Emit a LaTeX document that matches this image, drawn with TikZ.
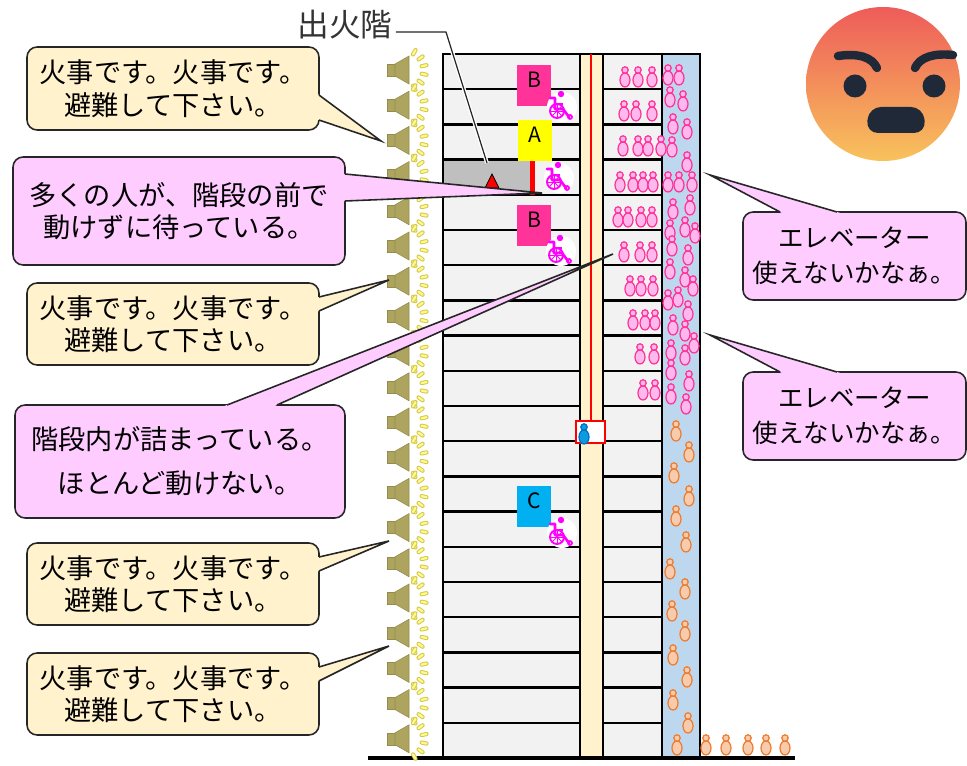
\documentclass[tikz,border=0pt]{standalone}
\usepackage{fontspec}
\newfontfamily\jp{Noto Sans CJK JP}
\usetikzlibrary{calc}

\definecolor{notebeige}{HTML}{FFF2CC}
\definecolor{notepink}{HTML}{FFCCFF}
\definecolor{floorfill}{HTML}{F2F2F2}
\definecolor{firefloor}{HTML}{BFBFBF}
\definecolor{corefill}{HTML}{FFF2CC}
\definecolor{shaftfill}{HTML}{BDD7EE}
\definecolor{tagB}{HTML}{FF3399}
\definecolor{tagA}{HTML}{FFFF00}
\definecolor{tagC}{HTML}{00B0F0}
\definecolor{chair}{HTML}{FF00FF}
\definecolor{spkbody}{HTML}{ADA45F}
\definecolor{spkedge}{HTML}{948C4A}
\definecolor{wavefill}{HTML}{FFF88A}
\definecolor{waveedge}{HTML}{D3C84E}
\definecolor{pinkbody}{HTML}{FFB8EC}
\definecolor{pinkline}{HTML}{FF3399}
\definecolor{orangebody}{HTML}{F8CBAD}
\definecolor{orangeline}{HTML}{ED7D31}
\definecolor{bluebody}{HTML}{0A9BE0}
\definecolor{blueline}{HTML}{0070C0}
\definecolor{emotop}{HTML}{EE5C5A}
\definecolor{emobot}{HTML}{F8C25C}
\definecolor{emofeat}{HTML}{1F2937}

% a tail for a speech box: base point, tip, base point
\newcommand{\calltail}[4]{%
  \fill[#1] ($(#2)!-2.5pt!(#3)$) -- (#3) -- ($(#4)!-2.5pt!(#3)$) -- cycle;
  \draw[tailedge] (#2) -- (#3) -- (#4);}

\tikzset{
  note/.style={draw=black!85, line width=0.9pt, rounded corners=0.2cm, align=center,
    inner sep=0pt, outer sep=0pt, font=\jp\fontsize{15.5}{18.5}\selectfont},
  warnnote/.style={note, fill=notebeige, minimum width=5.84cm, minimum height=1.64cm},
  crowdnote/.style={note, fill=notepink},
  liftnote/.style={note, fill=notepink, minimum width=4.46cm, minimum height=1.76cm,
    font=\jp\fontsize{14.5}{20}\selectfont},
  tailedge/.style={draw=black!85, line width=0.9pt},
  floorline/.style={line width=1.4pt},
  wall/.style={line width=1.6pt},
  tagbox/.style={anchor=north west, minimum width=0.68cm, text height=9.5pt, text depth=7.7pt,
    inner ysep=3pt, inner xsep=0pt, font=\jp\fontsize{12}{12}\selectfont},
  pinkp/.style={draw=pinkline, fill=pinkbody, line width=0.7pt},
  orangep/.style={draw=orangeline, fill=orangebody, line width=0.7pt},
  bluep/.style={draw=blueline, fill=bluebody, line width=0.7pt},
  pics/man/.style={code={
      \path[#1] (0,0) ellipse (5 and 7);
      \path[#1] (0,-10) circle (3.2);}},
  pics/speaker/.style={code={
      \filldraw[fill=spkbody, draw=spkedge, line width=0.3pt] (-13,-6) rectangle (-5,6);
      \filldraw[fill=spkbody, draw=spkedge, line width=0.3pt] (-5,-6) -- (9,-14) -- (9,14) -- (-5,6) -- cycle;
      \begin{scope}[shift={(4,0)}]
        \foreach \a in {-60,-36,-12,12,36,60}{
          \draw[waveedge, line width=2.4pt, line cap=round] (\a:18) -- (\a:23);
          \draw[wavefill, line width=1.3pt, line cap=round] (\a:18) -- (\a:23);
        }
      \end{scope}}},
  pics/wheelchair/.style={code={
      \fill[white] (1,1) circle (15);
      \fill[chair] (0,-12) circle (3.2);
      \draw[chair, line width=1.5pt, line cap=round, line join=round]
        (-11,-8) -- (-6,-8) -- (-6,3) -- (2,3) -- (8,11);
      \draw[chair, line width=1.3pt] (-6,-2) -- (2,-2);
      \draw[chair, line width=1.1pt] (-4,5) circle (7);
      \foreach \a in {0,45,...,315} \draw[chair, line width=0.5pt] (-4,5) -- ++(\a:7);
      \draw[chair, line width=1pt] (9,11) circle (2);}}
}

\begin{document}
\begin{tikzpicture}[x=0.02cm, y=-0.02cm]
\useasboundingbox (0,0) rectangle (967,766);

% building
\fill[floorfill] (443,54) rectangle (580,758);
\fill[floorfill] (603,54) rectangle (662,758);
\fill[firefloor] (443,159.6) rectangle (530,194.8);
\foreach \k in {1,...,19}{
  \draw[floorline] (443,54+\k*35.2) -- (580,54+\k*35.2);
  \draw[floorline] (603,54+\k*35.2) -- (662,54+\k*35.2);
}
\draw[wall, fill=corefill] (580,54) rectangle (603,758);
\draw[wall, fill=shaftfill] (662,54) rectangle (700,758);
\draw[wall] (443,758) -- (443,54) -- (700,54);
\draw[red, line width=0.6pt] (591,54) -- (591,421);
\draw[line width=1.8pt] (368,758) -- (795,758);

% one speaker per floor
\foreach \k in {0,...,19} \pic at (400,70+\k*35.2) {speaker};

% people waiting on the floors
\foreach \mx/\my in {625/80,638/80,652/80, 624/114,636/114,652/114,
    623/149,638/149,648/149,661/149, 620/185,633/185,643/185,653/185,
    618/220,628/220,641/220,652/220, 624/255,640/255,652/255,
    630/289,641/289,653/289, 633/323,645/323,655/323, 640/357,654/357, 643/393,655/393}
  \pic at (\mx,\my) {man=pinkp};
% stairs: crowded part
\foreach \mx/\my in {668/78,679/78,670/100,683/104,673/127,687/132,672/150,687/165,
    668/185,679/185,692/185,673/212,690/208,670/233,685/230,695/236,672/249,688/258,
    670/272,685/280,693/289,668/303,678/300,688/314,673/328,685/334,694/346,
    671/353,685/358,671/373,689/384,671/397,686/407}
  \pic at (\mx,\my) {man=pinkp};
% stairs: moving part and outside
\foreach \mx/\my in {676/434,689/455,674/476,689/499,676/519,686/545,670/572,685/592,
    672/614,685/634,673/658,687/680,673/703,688/726,677/748,
    706/748,726/748,748/748,766/748,785/748}
  \pic at (\mx,\my) {man=orangep};

% lift car
\draw[red, line width=1.1pt, fill=white] (576,421) rectangle (605,443);
\pic at (584,437) {man=bluep};

% areas A, B, C
\node[tagbox, fill=tagB] (tagB1) at (517,65) {B};
\node[tagbox, fill=tagA] (tagA) at (518,120) {A};
\node[tagbox, fill=tagB] (tagB2) at (517,205) {B};
\node[tagbox, fill=tagC] (tagC) at (517,486) {C};
\foreach \mx/\my in {561/106, 558/177, 560/250, 561/532} \pic at (\mx,\my) {wheelchair};

% fire floor
\fill[red] (530,161) rectangle (535,195);
\draw[fill=red, line width=0.5pt] (492,174) -- (499,188) -- (485,188) -- cycle;
\node[font=\jp\fontsize{18}{18}\selectfont, text=black!80, inner sep=0pt] (firelbl) at (345,25) {出火階};
\coordinate (firestart) at ($(firelbl.east)+(3,7)$);
\coordinate (fireknee) at (446,32);
\coordinate (firept) at (487,163);
\draw[white, line width=2.2pt] (firestart) -- (fireknee) -- (firept);
\draw[black!85, line width=0.7pt] (firestart) -- (fireknee) -- (firept);

% speech boxes
\node[warnnote, minimum height=1.66cm] (warn1) at (173,88.5) {火事です。火事です。\\避難して下さい。};
\node[crowdnote, minimum width=6.64cm, minimum height=2.16cm] (crowd1) at (179,211) {多くの人が、階段の前で\\動けずに待っている。};
\node[warnnote] (warn2) at (173,324) {火事です。火事です。\\避難して下さい。};
\node[crowdnote, minimum width=6.6cm, minimum height=2.26cm, font=\jp\fontsize{15.5}{25}\selectfont] (crowd2) at (180,461.5) {階段内が詰まっている。\\ほとんど動けない。};
\node[warnnote] (warn3) at (173,584) {火事です。火事です。\\避難して下さい。};
\node[warnnote] (warn4) at (173,694) {火事です。火事です。\\避難して下さい。};
\node[liftnote] (lift1) at (854.5,256) {エレベーター\\使えないかなぁ。};
\node[liftnote] (lift2) at (854.5,416) {エレベーター\\使えないかなぁ。};

\coordinate (tipW1) at (381,141);
\coordinate (tipC1) at (542,193);
\coordinate (tipW2) at (389,280);
\coordinate (tipC2) at (613,254);
\coordinate (tipW3) at (389,541);
\coordinate (tipW4) at (389,646);
\coordinate (tipL1) at (710,175);
\coordinate (tipL2) at (710,335);

\coordinate (w1a) at ($(warn1.north east)+(0,48)$);
\coordinate (w1b) at ($(warn1.north east)+(0,73)$);
\coordinate (c1a) at ($(crowd1.north east)+(0,17)$);
\coordinate (c1b) at ($(crowd1.north east)+(0,44)$);
\coordinate (w2a) at ($(warn2.north east)+(0,14)$);
\coordinate (w2b) at ($(warn2.north east)+(0,28)$);
\coordinate (c2a) at ($(crowd2.north west)+(212,0)$);
\coordinate (c2b) at ($(crowd2.north west)+(262,0)$);
\coordinate (w3a) at ($(warn3.north east)+(0,14)$);
\coordinate (w3b) at ($(warn3.north east)+(0,28)$);
\coordinate (w4a) at ($(warn4.north east)+(0,14)$);
\coordinate (w4b) at ($(warn4.north east)+(0,28)$);
\coordinate (l1a) at ($(lift1.north west)+(37,0)$);
\coordinate (l1b) at ($(lift1.north west)+(94,0)$);
\coordinate (l2a) at ($(lift2.north west)+(37,0)$);
\coordinate (l2b) at ($(lift2.north west)+(94,0)$);

\calltail{notebeige}{w1a}{tipW1}{w1b}
\calltail{notepink}{c1a}{tipC1}{c1b}
\calltail{notebeige}{w2a}{tipW2}{w2b}
\calltail{notepink}{c2a}{tipC2}{c2b}
\calltail{notebeige}{w3a}{tipW3}{w3b}
\calltail{notebeige}{w4a}{tipW4}{w4b}
\calltail{notepink}{l1a}{tipL1}{l1b}
\calltail{notepink}{l2a}{tipL2}{l2b}

% angry face
\shade[top color=emotop, bottom color=emobot] (883,84) circle (77);
\draw[emofeat, line width=4.8pt, line cap=round] (838,56) .. controls (858,53) and (872,57) .. (877,68);
\draw[emofeat, line width=4.8pt, line cap=round] (915,68) .. controls (920,57) and (934,53) .. (953,55);
\fill[emofeat] (855,86) circle (11.5);
\fill[emofeat] (934,86) circle (11.5);
\fill[emofeat, rounded corners=0.24cm] (869,107) -- (923,107) -- (926,133) -- (866,133) -- cycle;
\end{tikzpicture}
\end{document}
